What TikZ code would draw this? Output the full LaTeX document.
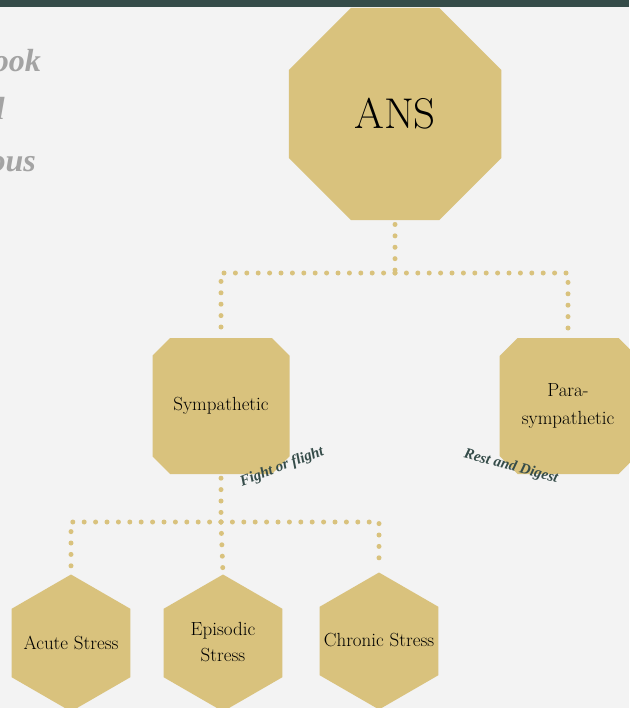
\documentclass[tikz,border=0pt]{standalone}
\usepackage{fontspec}
\usetikzlibrary{shapes.geometric,shapes.misc}
\newfontfamily\lblfont{Liberation Serif}
\definecolor{bgc}{HTML}{F3F3F3}
\definecolor{gold}{HTML}{D9C27D}
\definecolor{darkteal}{HTML}{354C49}
\definecolor{graytxt}{HTML}{A3A3A3}
\tikzset{
  oct/.style={regular polygon, regular polygon sides=8, fill=gold, inner sep=0pt, minimum size=230pt, font=\fontsize{43}{46}\selectfont},
  hexa/.style={regular polygon, regular polygon sides=6, shape border rotate=30, fill=gold, inner sep=0pt, minimum size=137pt},
  hextxt/.style={align=center, inner sep=0pt, font=\fontsize{19}{26}\selectfont},
  chbox/.style={chamfered rectangle, chamfered rectangle xsep=9pt, chamfered rectangle ysep=9pt, fill=gold, inner sep=0pt, minimum width=137pt, minimum height=136pt, align=center, font=\fontsize{19}{28}\selectfont},
  dots/.style={draw=gold, line width=5pt, line cap=round, dash pattern=on 0pt off 11.4pt},
  lbl/.style={text=darkteal, inner sep=0pt, font=\lblfont\fontsize{15}{17}\selectfont\bfseries\itshape},
  gtxt/.style={text=graytxt, inner sep=0pt, anchor=base east, font=\lblfont\fontsize{32}{36}\selectfont\bfseries\itshape}
}
\begin{document}
\begin{tikzpicture}[x=1pt,y=-1pt]
\useasboundingbox (0,0) rectangle (629,708);
\fill[bgc] (0,0) rectangle (629,708);
\fill[darkteal] (0,0) rectangle (629,7);
% cropped side text
\node[gtxt] (g1) at (41,72) {book};
\node[gtxt] (g2) at (5,120) {all};
\node[gtxt] (g3) at (36,172) {nervous};
% main nodes
\node[oct] (ans) at (395,114) {ANS};
\node[chbox] (symp) at (221,406) {Sympathetic};
\node[chbox] (para) at (568,406) {Para-\\sympathetic};
\node[hexa] (acute) at (71,643) {};
\node[hexa] (epi) at (223,643) {};
\node[hexa] (chron) at (379,641) {};
\node[hextxt] (acutet) at (acute.center) {Acute Stress};
\node[hextxt] (epit) at ([yshift=1pt]epi.center) {Episodic\\Stress};
\node[hextxt] (chront) at ([yshift=1pt]chron.center) {Chronic Stress};
% labels
\node[lbl, rotate=21] (fof) at (282,467) {Fight or flight};
\node[lbl, rotate=-15] (rad) at (511,467) {Rest and Digest};
% connectors
\coordinate (j1) at (395,273);
\coordinate (j2) at (221,522);
\draw[dots, shorten <=4pt] (ans.south) -- (j1);
\draw[dots, shorten >=8pt] (j1) -| (symp.north);
\draw[dots, shorten >=8pt] (j1) -| (para.north);
\draw[dots, shorten <=4pt] (symp.south) -- (j2);
\draw[dots, shorten >=8pt] (j2) -| (acute.north);
\draw[dots, shorten >=6pt] (j2) -- (epi.north);
\draw[dots, shorten >=6pt] (j2) -| (chron.north);
\end{tikzpicture}
\end{document}
